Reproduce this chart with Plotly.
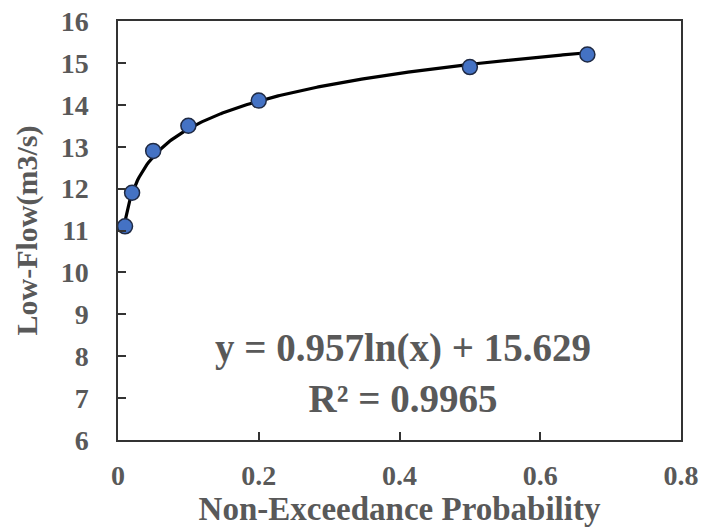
import numpy as np
import plotly.graph_objects as go

prob = [0.01, 0.02, 0.05, 0.1, 0.2, 0.5, 0.667]
flow = [11.1, 11.9, 12.9, 13.5, 14.1, 14.9, 15.2]
coef_a = 0.957
coef_b = 15.629
x_ticks = [0, 0.2, 0.4, 0.6, 0.8]
x_tick_labels = ["0", "0.2", "0.4", "0.6", "0.8"]
y_ticks = list(range(6, 17))

xfit = np.linspace(min(prob), max(prob), 300)
yfit = coef_a * np.log(xfit) + coef_b

txt = "#595959"
font = "Liberation Serif"

fig = go.Figure()
fig.add_trace(go.Scatter(x=xfit, y=yfit, mode="lines",
                         line=dict(color="black", width=3.2), showlegend=False))
fig.add_trace(go.Scatter(x=prob, y=flow, mode="markers",
                         marker=dict(size=15, color="#4472C4",
                                     line=dict(color="#1f2a44", width=1.5)),
                         showlegend=False))

fig.add_annotation(x=0.405, y=7.6, xref="x", yref="y",
                   text="<b>y = 0.957ln(x) + 15.629</b><br><b>R² = 0.9965</b>",
                   showarrow=False, align="center",
                   font=dict(family=font, size=39, color=txt))

fig.update_layout(
    width=703, height=527,
    margin=dict(l=118, r=22, t=21, b=87),
    plot_bgcolor="white", paper_bgcolor="white",
    font=dict(family=font, color=txt),
    xaxis=dict(range=[0, 0.8], tickvals=x_ticks, ticktext=["<b>%s</b>" % t for t in x_tick_labels],
               ticks="inside", ticklen=8, tickwidth=1.5, tickcolor="#333",
               ticklabelstandoff=10, automargin=False,
               showline=True, linecolor="#333", linewidth=1.5, mirror=True,
               showgrid=False, zeroline=False,
               tickfont=dict(family=font, size=28, color=txt),
               title=dict(text="<b>Non-Exceedance Probability</b>", standoff=6,
                          font=dict(family=font, size=33, color=txt))),
    yaxis=dict(range=[6, 16], tickvals=y_ticks, ticktext=["<b>%d</b>" % t for t in y_ticks],
               ticks="inside", ticklen=8, tickwidth=1.5, tickcolor="#333",
               ticklabelstandoff=22, automargin=False,
               showline=True, linecolor="#333", linewidth=1.5, mirror=True,
               showgrid=False, zeroline=False,
               tickfont=dict(family=font, size=28, color=txt),
               title=dict(text="<b>Low-Flow(m3/s)</b>", standoff=14,
                          font=dict(family=font, size=30, color=txt))),
)
fig.write_html("out.html")
